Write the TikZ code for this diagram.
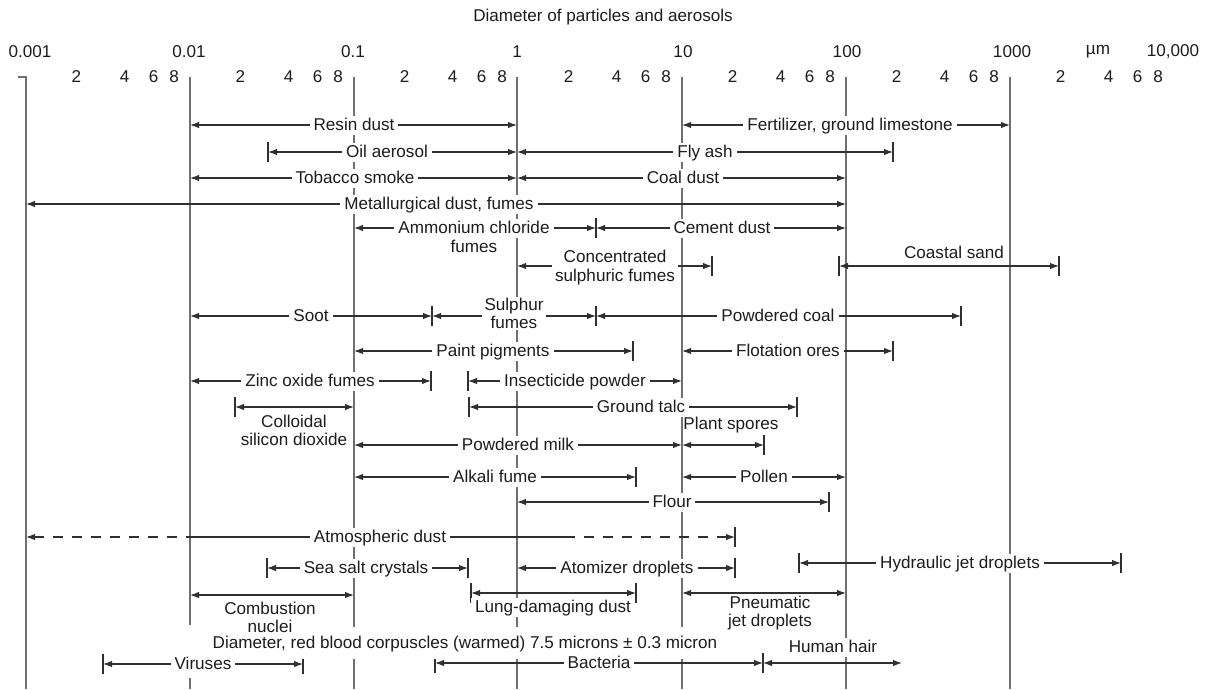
\documentclass[tikz,border=0pt]{standalone}
\usepackage{fontspec}
\setmainfont{Liberation Sans}
\usetikzlibrary{arrows.meta}
\definecolor{gridc}{HTML}{707070}
\definecolor{linec}{HTML}{303030}
\definecolor{textc}{HTML}{1C1C1C}
\newcommand{\rangeline}[4]{%
  \coordinate (#1L) at (#3,#2); \coordinate (#1R) at (#4,#2);
  \draw[rng] (#1L) -- (#1R);}
\newcommand{\barat}[1]{\draw[barl] ([yshift=10pt]#1) -- ([yshift=-10pt]#1);}
\begin{document}
\begin{tikzpicture}[x=1pt,y=-1pt,
  gridl/.style={draw=gridc,line width=1.7pt},
  tipa/.tip={Latex[length=9pt,width=6.5pt]},
  rng/.style={draw=linec,line width=1.2pt,tipa-tipa},
  seg/.style={draw=linec,line width=1.2pt},
  barl/.style={draw=linec,line width=1.2pt},
  lab/.style={font=\fontsize{17.1}{18.5}\selectfont,text=textc,fill=white,
    text height=12pt,text depth=1pt,inner xsep=4pt,inner ysep=3pt},
  labnf/.style={lab,fill=none},
  labm/.style={font=\fontsize{17.1}{18.5}\selectfont,text=textc,align=center,
    inner xsep=3pt,inner ysep=1pt},
  axl/.style={font=\fontsize{17.1}{18.5}\selectfont,text=textc,inner sep=0pt}
]
\useasboundingbox (0,0) rectangle (1207,689);

% title and axis
\node[axl] (title) at (603,17) {Diameter of particles and aerosols};
\node[axl] (d1) at (30,52) {0.001};
\node[axl] (d2) at (189,52) {0.01};
\node[axl] (d3) at (353,52) {0.1};
\node[axl] (d4) at (517,52) {1};
\node[axl] (d5) at (683,52) {10};
\node[axl] (d6) at (847,52) {100};
\node[axl] (d7) at (1012,52) {1000};
\node[axl] (unit) at (1098,52) {µm};
\node[axl] (d8) at (1173,52) {10,000};
\foreach \d in {26,190,354,518,682,846,1010}
  \foreach \m/\o in {2/50.5,4/98.7,6/127.6,8/148.1}
    \node[axl] (t\d\m) at (\d+\o,77) {\m};

% grid lines
\coordinate (g0t) at (26,77); \coordinate (g0b) at (26,689);
\coordinate (g0h) at (18,77);
\draw[gridl] (g0h) -- (g0t) -- (g0b);
\coordinate (g1t) at (190,77); \coordinate (g1m) at (190,625);
\coordinate (g1n) at (190,678); \coordinate (g1b) at (190,689);
\draw[gridl] (g1t) -- (g1m); \draw[gridl] (g1n) -- (g1b);
\foreach \gx/\gn in {354/g2,517/g3,682/g4,846/g5,1010/g6}{
  \coordinate (\gn t) at (\gx,77); \coordinate (\gn b) at (\gx,689);
  \draw[gridl] (\gn t) -- (\gn b);
}

% ranges
\rangeline{resin}{125}{190}{517}
\rangeline{fert}{125}{682}{1010}
\rangeline{oil}{152}{268}{517} \barat{oilL}
\rangeline{fly}{152}{517}{893} \barat{flyR}
\rangeline{tob}{178}{190}{517}
\rangeline{coal}{178}{517}{846}
\rangeline{met}{204}{26}{846}
\rangeline{amm}{228}{354}{596}
\rangeline{cem}{228}{596}{846} \barat{cemL}
\rangeline{conc}{266}{517}{712} \barat{concR}
\rangeline{coast}{266}{839}{1059} \barat{coastL} \barat{coastR}
\rangeline{soot}{316}{190}{432} \barat{sootR}
\rangeline{sul}{316}{432}{596} \barat{sulR}
\rangeline{pco}{316}{596}{961} \barat{pcoR}
\rangeline{paint}{351}{354}{633} \barat{paintR}
\rangeline{flot}{351}{682}{893} \barat{flotR}
\rangeline{zinc}{381}{190}{431} \barat{zincR}
\rangeline{ins}{381}{468}{682} \barat{insL}
\rangeline{coll}{407}{235}{354} \barat{collL}
\rangeline{talc}{407}{469}{797} \barat{talcL} \barat{talcR}
\rangeline{milk}{445}{354}{682}
\rangeline{spor}{445}{682}{764} \barat{sporR}
\rangeline{alk}{477}{354}{636} \barat{alkR}
\rangeline{pol}{477}{682}{846}
\rangeline{flour}{502}{517}{829} \barat{flourR}
% atmospheric dust
\coordinate (atmL) at (26,537); \coordinate (atmA) at (188,537);
\coordinate (atmB) at (565,537); \coordinate (atmR) at (735,537);
\draw[seg,dash pattern=on 10pt off 9pt,tipa-] (atmL) -- (atmA);
\draw[seg] (atmA) -- (atmB);
\draw[seg,dash pattern=on 10pt off 9pt,-tipa] (atmB) -- (atmR);
\barat{atmR}
\rangeline{sea}{568}{267}{468} \barat{seaL} \barat{seaR}
\rangeline{atom}{568}{517}{735} \barat{atomR}
\rangeline{hyd}{563}{799}{1121} \barat{hydL} \barat{hydR}
\rangeline{comb}{595}{190}{354}
\rangeline{lung}{593}{471}{636} \barat{lungL} \barat{lungR}
\rangeline{pneu}{593}{682}{846}
\rangeline{vir}{664}{103}{303} \barat{virL} \barat{virR}
\rangeline{bac}{663}{435}{763} \barat{bacL} \barat{bacR}
\rangeline{hair}{663}{763}{902}

% labels
\node[lab,inner ysep=9.5pt] (diamT) at (465,643) {Diameter, red blood corpuscles (warmed) 7.5 microns ± 0.3 micron};
\node[lab] (resinT) at (354,125) {Resin dust};
\node[lab] (fertT) at (850,125) {Fertilizer, ground limestone};
\node[lab] (oilT) at (387,152) {Oil aerosol};
\node[lab] (flyT) at (705,152) {Fly ash};
\node[lab] (tobT) at (355,178) {Tobacco smoke};
\node[lab] (coalT) at (683,178) {Coal dust};
\node[lab] (metT) at (439,204) {Metallurgical dust, fumes};
\node[lab] (ammT) at (474,228) {Ammonium chloride};
\node[labnf] (ammT2) at (474,246.5) {fumes};
\node[lab] (cemT) at (722,228) {Cement dust};
\node[labm,fill=white] (concT) at (615,267.5) {Concentrated\\sulphuric fumes};
\node[labnf] (coastT) at (954,253) {Coastal sand};
\node[lab] (sootT) at (311,316) {Soot};
\node[labm,fill=white] (sulT) at (514,313.5) {Sulphur\\fumes};
\node[lab] (pcoT) at (778,316) {Powdered coal};
\node[lab] (paintT) at (493,351) {Paint pigments};
\node[lab] (flotT) at (788,351) {Flotation ores};
\node[lab] (zincT) at (310,381) {Zinc oxide fumes};
\node[lab] (insT) at (575,381) {Insecticide powder};
\node[labm] (collT) at (294,430.5) {Colloidal\\silicon dioxide};
\node[lab] (talcT) at (641,407) {Ground talc};
\node[lab] (milkT) at (518,445) {Powdered milk};
\node[labnf] (sporT) at (731,424) {Plant spores};
\node[lab] (alkT) at (495,477) {Alkali fume};
\node[lab] (polT) at (764,477) {Pollen};
\node[lab] (flourT) at (672,502) {Flour};
\node[lab] (atmT) at (380,537) {Atmospheric dust};
\node[lab] (seaT) at (366,568) {Sea salt crystals};
\node[lab] (atomT) at (627,568) {Atomizer droplets};
\node[lab] (hydT) at (960,563) {Hydraulic jet droplets};
\node[labm] (combT) at (270,617.5) {Combustion\\nuclei};
\node[lab] (lungT) at (553,607) {Lung-damaging dust};
\node[labm] (pneuT) at (770,613) {Pneumatic\\jet droplets};
\node[lab] (virT) at (203,664) {Viruses};
\node[lab] (bacT) at (599,663) {Bacteria};
\node[lab] (hairT) at (833,647) {Human hair};
\end{tikzpicture}
\end{document}
